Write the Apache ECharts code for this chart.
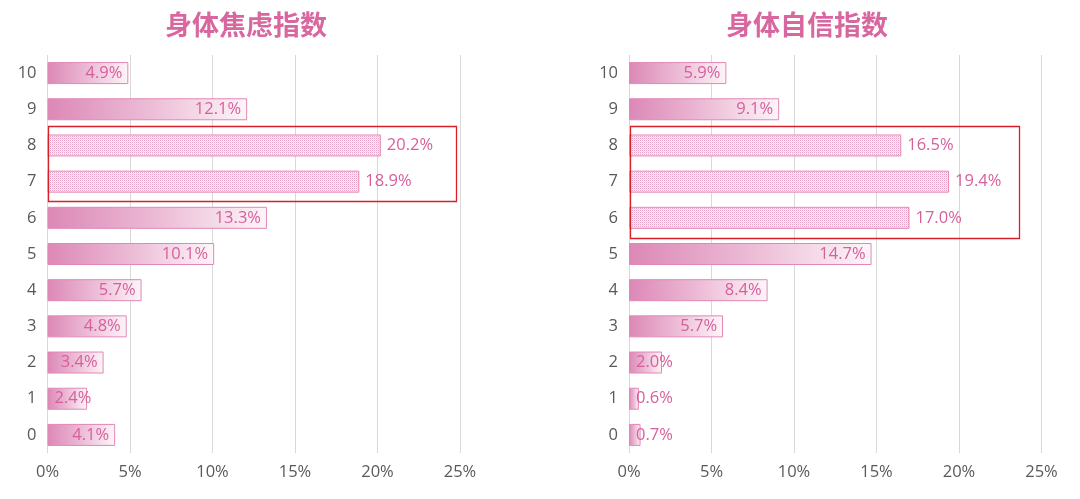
<!DOCTYPE html>
<html><head><meta charset="utf-8">
<script src="https://cdn.jsdelivr.net/npm/echarts@6/dist/echarts.min.js"></script>
<style>html,body{margin:0;padding:0;background:#fff}#c{width:1080px;height:499px}</style>
</head><body><div id="c"></div>
<script>
const categories = ['0','1','2','3','4','5','6','7','8','9','10'];
const anxietyValues = [4.1, 2.4, 3.4, 4.8, 5.7, 10.1, 13.3, 18.9, 20.2, 12.1, 4.9];
const confidenceValues = [0.7, 0.6, 2.0, 5.7, 8.4, 14.7, 17.0, 19.4, 16.5, 9.1, 5.9];
const anxietyHighlight = ['7', '8'];
const confidenceHighlight = ['6', '7', '8'];
const titles = ['身体焦虑指数', '身体自信指数'];
const xTicks = [0, 5, 10, 15, 20, 25];
const boxExtent = [24.7, 23.6];

const pink = '#d65f9c';
const pat = document.createElement('canvas');
pat.width = 2; pat.height = 2;
const pc = pat.getContext('2d');
pc.fillStyle = '#fcf2f7'; pc.fillRect(0,0,2,2);
pc.fillStyle = '#e6a0c3'; pc.fillRect(0,0,1,1);
pc.fillStyle = '#f5d2e3'; pc.fillRect(1,1,1,1);

const grad = () => new echarts.graphic.LinearGradient(0,0,1,0,[
  {offset:0,color:'#dc88b6'},{offset:0.5,color:'#ecbbd5'},{offset:1,color:'#fdf5f9'}]);

function barData(vals, hl) {
  return vals.map((v, i) => {
    const isHl = hl.includes(categories[i]);
    const item = { value: v, itemStyle: { color: isHl ? { image: pat, repeat: 'repeat' } : grad() } };
    if (isHl) item.label = { position: 'right', distance: 6 };
    else if (v < 3) item.label = { position: 'insideLeft', distance: 7 };
    return item;
  });
}

function makeSeries(idx, vals, hl) {
  return [{
    type: 'bar', xAxisIndex: idx, yAxisIndex: idx,
    data: barData(vals, hl), barWidth: 22,
    itemStyle: { borderColor: '#e388b6', borderWidth: 1 },
    label: { show: true, position: 'insideRight', distance: 6, color: pink, fontSize: 16.5,
      fontFamily: 'Open Sans, Noto Sans, sans-serif',
      formatter: p => p.value.toFixed(1) + '%' },
    silent: true, z: 2
  }, {
    type: 'custom', xAxisIndex: idx, yAxisIndex: idx, z: 5, silent: true,
    data: [[boxExtent[idx], categories.indexOf(hl[0]), categories.indexOf(hl[hl.length-1])]],
    renderItem: (params, api) => {
      const band = api.size([0, 1])[1];
      const p0 = api.coord([0, api.value(1)]);
      const p1 = api.coord([api.value(0), api.value(2)]);
      const x = p0[0] + 0.5, y = p1[1] - band/2 - 1.5;
      const w = p1[0] - p0[0], h = p0[1] - p1[1] + band + 3;
      return { type: 'rect', shape: { x: Math.round(x)+0.5, y: Math.round(y)+0.5, width: Math.round(w), height: Math.round(h) },
        style: { fill: 'none', stroke: '#d8202a', lineWidth: 1.3 } };
    }
  }];
}

const chart = echarts.init(document.getElementById('c'));
const grids = [{ left: 47.5, right: 620, top: 55, bottom: 46 }, { left: 629, right: 38.5, top: 55, bottom: 46 }];
chart.setOption({
  animation: false,
  title: titles.map((t, i) => ({ text: t, left: i === 0 ? 241 : 802, top: 6, textAlign: 'center',
    textStyle: { color: '#d8669f', fontSize: 27, fontWeight: 'bold', fontFamily: 'Noto Sans CJK SC' } })),
  grid: grids,
  xAxis: [0, 1].map(i => ({
    type: 'value', gridIndex: i, min: 0, max: 25, interval: 5,
    axisLine: { show: false }, axisTick: { show: false },
    splitLine: { lineStyle: { color: '#d9d9d9', width: 1 } },
    axisLabel: { color: '#595959', fontSize: 16.5, margin: 11, fontFamily: 'Open Sans, Noto Sans, sans-serif',
      formatter: v => xTicks.includes(v) ? v + '%' : '' }
  })),
  yAxis: [0, 1].map(i => ({
    type: 'category', gridIndex: i, data: categories,
    axisLine: { show: false }, axisTick: { show: false },
    axisLabel: { color: '#595959', fontSize: 16.5, margin: 11, fontFamily: 'Open Sans, Noto Sans, sans-serif' }
  })),
  series: [...makeSeries(0, anxietyValues, anxietyHighlight), ...makeSeries(1, confidenceValues, confidenceHighlight)]
});
</script></body></html>
